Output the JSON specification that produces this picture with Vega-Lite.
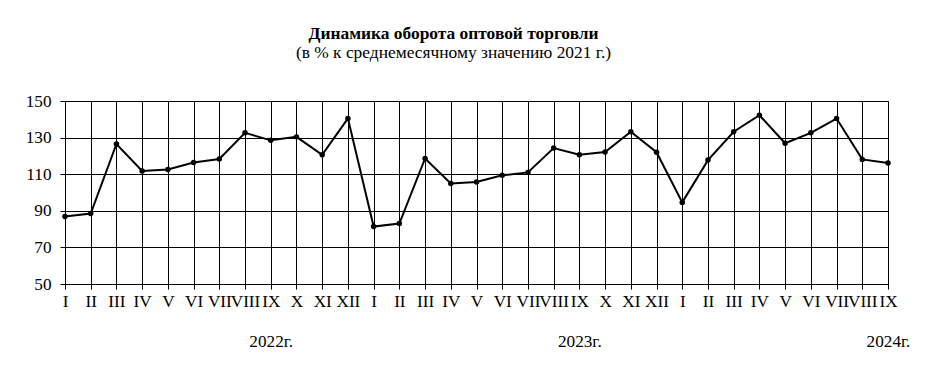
{
  "$schema": "https://vega.github.io/schema/vega-lite/v6.json",
  "width": 823,
  "height": 183,
  "autosize": {"type": "none"},
  "padding": {"left": 65, "top": 101, "right": 46, "bottom": 91},
  "background": "white",
  "title": {
    "text": "Динамика оборота оптовой торговли",
    "subtitle": "(в % к среднемесячному значению 2021 г.)",
    "font": "Liberation Serif",
    "fontSize": 17.4,
    "fontWeight": "bold",
    "color": "black",
    "subtitleFont": "Liberation Serif",
    "subtitleFontSize": 17.4,
    "subtitleColor": "black",
    "subtitlePadding": 1,
    "anchor": "middle",
    "frame": "group",
    "offset": 31,
    "dx": -23
  },
  "config": {
    "view": {"stroke": "black", "strokeWidth": 1},
    "axis": {
      "labelFont": "Liberation Serif",
      "labelFontSize": 17.2,
      "labelColor": "black",
      "tickColor": "black",
      "tickSize": 5,
      "domainColor": "black",
      "gridColor": "black",
      "gridOpacity": 1,
      "gridWidth": 1,
      "title": null
    }
  },
  "data": {
    "values": [
      {"m": "2022 I", "v": 86.9},
      {"m": "2022 II", "v": 88.5},
      {"m": "2022 III", "v": 126.5},
      {"m": "2022 IV", "v": 111.8},
      {"m": "2022 V", "v": 112.6},
      {"m": "2022 VI", "v": 116.4},
      {"m": "2022 VII", "v": 118.3},
      {"m": "2022 VIII", "v": 132.6},
      {"m": "2022 IX", "v": 128.5},
      {"m": "2022 X", "v": 130.4},
      {"m": "2022 XI", "v": 120.6},
      {"m": "2022 XII", "v": 140.5},
      {"m": "2023 I", "v": 81.4},
      {"m": "2023 II", "v": 83.0},
      {"m": "2023 III", "v": 118.6},
      {"m": "2023 IV", "v": 104.9},
      {"m": "2023 V", "v": 105.8},
      {"m": "2023 VI", "v": 109.4},
      {"m": "2023 VII", "v": 111.0},
      {"m": "2023 VIII", "v": 124.3},
      {"m": "2023 IX", "v": 120.6},
      {"m": "2023 X", "v": 122.1},
      {"m": "2023 XI", "v": 133.2},
      {"m": "2023 XII", "v": 122.0},
      {"m": "2024 I", "v": 94.6},
      {"m": "2024 II", "v": 117.7},
      {"m": "2024 III", "v": 133.2},
      {"m": "2024 IV", "v": 142.2},
      {"m": "2024 V", "v": 126.9},
      {"m": "2024 VI", "v": 132.6},
      {"m": "2024 VII", "v": 140.4},
      {"m": "2024 VIII", "v": 118.1},
      {"m": "2024 IX", "v": 116.1}
    ]
  },
  "encoding": {
    "x": {
      "field": "m",
      "type": "ordinal",
      "sort": null,
      "scale": {"type": "point", "padding": 0},
      "axis": {
        "grid": true,
        "labelAngle": 0,
        "labelPadding": 3,
        "labelOverlap": false,
        "labelBound": false,
        "labelFlush": false,
        "labelBaseline": "top",
        "labelLineHeight": 40,
        "labelExpr": "split(datum.value, ' ')[1] == 'IX' ? [split(datum.value, ' ')[1], split(datum.value, ' ')[0] + 'г.'] : split(datum.value, ' ')[1]"
      }
    },
    "y": {
      "field": "v",
      "type": "quantitative",
      "scale": {"domain": [50, 150], "nice": false, "zero": false},
      "axis": {
        "values": [50, 70, 90, 110, 130, 150],
        "grid": true,
        "labelPadding": 9
      }
    }
  },
  "layer": [
    {"mark": {"type": "line", "color": "black", "strokeWidth": 2}},
    {"mark": {"type": "point", "filled": true, "color": "black", "opacity": 1, "size": 30}}
  ]
}
